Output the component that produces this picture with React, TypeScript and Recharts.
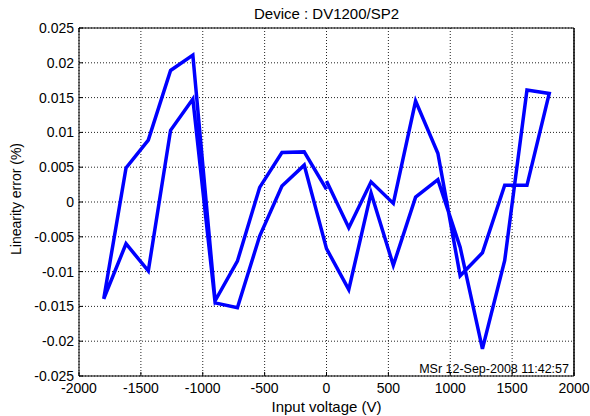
import React from 'react';
import { LineChart, Line, XAxis, YAxis, CartesianGrid } from 'recharts';

// Sweep 1: 0 V up to +1800 V
const sweep1Voltage = [0, 180, 360, 540, 720, 900, 1080, 1260, 1440, 1620, 1800];
const sweep1Error = [0.0030, -0.0037, 0.0029, -0.0002, 0.0145, 0.0070, -0.0106, -0.0073, 0.0024, 0.0024, 0.0156];

// Sweep 2: +1620 V down to -1800 V
const sweep2Voltage = [1620, 1440, 1260, 1080, 900, 720, 540, 360, 180, 0, -180, -360, -540, -720, -900, -1080, -1260, -1440, -1620, -1800];
const sweep2Error = [0.0161, -0.0084, -0.0211, -0.0065, 0.0032, 0.0007, -0.0091, 0.0013, -0.0126, -0.0067, 0.0053, 0.0023, -0.0049, -0.0152, -0.0145, 0.0148, 0.0103, -0.0099, -0.0060, -0.0139];

// Sweep 3: -1620 V back up to 0 V
const sweep3Voltage = [-1620, -1440, -1260, -1080, -900, -720, -540, -360, -180, 0];
const sweep3Error = [0.0049, 0.0089, 0.0189, 0.0211, -0.0142, -0.0085, 0.0021, 0.0071, 0.0072, 0.0018];

const xTicks = [-2000, -1500, -1000, -500, 0, 500, 1000, 1500, 2000];
const yTicks = [-0.025, -0.02, -0.015, -0.01, -0.005, 0, 0.005, 0.01, 0.015, 0.02, 0.025];

const titleText = 'Device : DV1200/SP2';
const xLabelText = 'Input voltage (V)';
const yLabelText = 'Linearity error (%)';
const stampText = 'MSr 12-Sep-2008 11:42:57';

const data = [
  ...sweep1Voltage.map((v, i) => ({ v, e: sweep1Error[i] })),
  ...sweep2Voltage.map((v, i) => ({ v, e: sweep2Error[i] })),
  ...sweep3Voltage.map((v, i) => ({ v, e: sweep3Error[i] })),
];

const FONT = '"Liberation Sans", Arial, Helvetica, sans-serif';
const tickStyle = { fill: '#000', fontSize: 14, fontFamily: FONT };

export default function App() {
  return (
    <div style={{ position: 'absolute', left: 0, top: 0, width: 590, height: 416, background: '#fff', fontFamily: FONT }}>
      <LineChart width={590} height={416} data={data} margin={{ top: 0, right: 0, bottom: 0, left: 0 }}>
        <CartesianGrid stroke="#222" strokeDasharray="1 2" />
        <XAxis
          dataKey="v"
          type="number"
          domain={[-2000, 2000]}
          ticks={xTicks}
          interval={0}
          height={40}
          tickSize={-4}
          tickMargin={11}
          axisLine={{ stroke: '#000' }}
          tickLine={{ stroke: '#000' }}
          tick={tickStyle}
        />
        <XAxis
          xAxisId="top"
          orientation="top"
          type="number"
          domain={[-2000, 2000]}
          ticks={xTicks}
          interval={0}
          height={28}
          tickSize={-4}
          tickFormatter={() => ''}
          axisLine={{ stroke: '#000' }}
          tickLine={{ stroke: '#000' }}
        />
        <YAxis
          type="number"
          domain={[-0.025, 0.025]}
          ticks={yTicks}
          interval={0}
          width={79}
          tickSize={-4}
          tickMargin={9}
          axisLine={{ stroke: '#000' }}
          tickLine={{ stroke: '#000' }}
          tick={tickStyle}
        />
        <YAxis
          yAxisId="right"
          orientation="right"
          type="number"
          domain={[-0.025, 0.025]}
          ticks={yTicks}
          interval={0}
          width={16}
          tickSize={-4}
          tickFormatter={() => ''}
          axisLine={{ stroke: '#000', strokeWidth: 1.5 }}
          tickLine={{ stroke: '#000' }}
        />
        <Line
          type="linear"
          dataKey="e"
          stroke="#0000ff"
          strokeWidth={3.5}
          strokeLinejoin="miter"
          dot={false}
          activeDot={false}
          isAnimationActive={false}
        />
      </LineChart>
      <div style={{ position: 'absolute', left: 79, width: 495, top: 6, lineHeight: '16px', fontSize: 15, textAlign: 'center', color: '#000' }}>
        {titleText}
      </div>
      <div style={{ position: 'absolute', left: 79, width: 495, top: 399, lineHeight: '16px', fontSize: 15, textAlign: 'center', color: '#000' }}>
        {xLabelText}
      </div>
      <div
        style={{
          position: 'absolute',
          left: 15.5 - 100,
          top: 199 - 8,
          width: 200,
          height: 16,
          lineHeight: '16px',
          fontSize: 14,
          textAlign: 'center',
          color: '#000',
          transform: 'rotate(-90deg)',
        }}
      >
        {yLabelText}
      </div>
      <div style={{ position: 'absolute', right: 21, top: 363, lineHeight: '13px', fontSize: 12.5, color: '#000', whiteSpace: 'nowrap' }}>
        {stampText}
      </div>
    </div>
  );
}
